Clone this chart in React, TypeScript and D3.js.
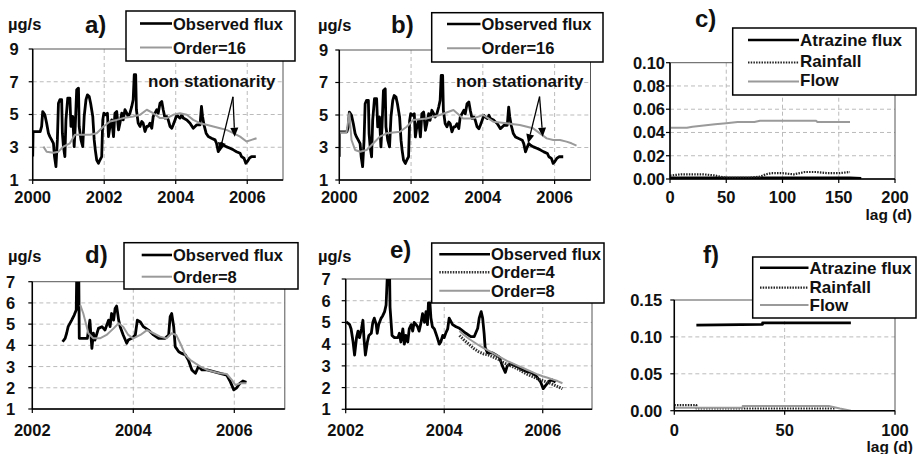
import React from 'react';
import * as d3 from 'd3';

const FONT = "'Liberation Sans', Arial, sans-serif";

// observed atrazine flux (panels a, b)
const obsYears = [2000.0, 2000.01, 2000.21, 2000.25, 2000.28, 2000.34, 2000.39, 2000.44, 2000.48, 2000.53, 2000.58, 2000.61, 2000.65, 2000.69, 2000.72, 2000.76, 2000.81, 2000.83, 2000.86, 2000.9, 2000.93, 2000.98, 2001.04, 2001.07, 2001.12, 2001.16, 2001.19, 2001.23, 2001.28, 2001.3, 2001.35, 2001.4, 2001.44, 2001.49, 2001.53, 2001.58, 2001.62, 2001.68, 2001.72, 2001.75, 2001.79, 2001.84, 2001.88, 2001.93, 2001.96, 2001.99, 2002.05, 2002.09, 2002.12, 2002.16, 2002.21, 2002.26, 2002.3, 2002.35, 2002.4, 2002.44, 2002.49, 2002.53, 2002.58, 2002.63, 2002.67, 2002.72, 2002.77, 2002.81, 2002.84, 2002.88, 2002.9, 2002.95, 2003.0, 2003.05, 2003.09, 2003.14, 2003.19, 2003.23, 2003.28, 2003.33, 2003.37, 2003.42, 2003.47, 2003.51, 2003.56, 2003.61, 2003.65, 2003.7, 2003.75, 2003.79, 2003.84, 2003.89, 2003.93, 2003.98, 2004.03, 2004.07, 2004.12, 2004.17, 2004.21, 2004.31, 2004.4, 2004.49, 2004.59, 2004.68, 2004.72, 2004.75, 2004.79, 2004.85, 2004.91, 2005.0, 2005.1, 2005.14, 2005.19, 2005.24, 2005.28, 2005.33, 2005.41, 2005.52, 2005.61, 2005.7, 2005.8, 2005.84, 2005.91, 2005.96, 2006.0, 2006.06, 2006.12, 2006.24];
const obsFlux = [2.43, 3.96, 3.96, 4.27, 5.18, 4.98, 4.47, 3.86, 3.65, 3.45, 3.24, 2.43, 1.82, 3.45, 5.69, 5.9, 5.9, 3.86, 3.04, 2.43, 4.67, 6.0, 6.0, 4.27, 4.88, 3.04, 4.27, 6.51, 6.61, 4.27, 3.45, 3.04, 4.88, 5.9, 6.2, 6.1, 5.69, 4.88, 3.45, 2.84, 2.22, 2.02, 2.22, 2.43, 4.67, 5.08, 4.98, 5.08, 3.65, 4.27, 4.67, 3.65, 5.08, 5.18, 4.06, 4.47, 5.08, 4.67, 5.29, 5.08, 4.88, 5.08, 5.49, 5.9, 7.43, 7.43, 5.29, 4.47, 4.27, 4.57, 4.47, 3.96, 4.27, 4.27, 4.47, 4.16, 4.88, 5.08, 5.29, 5.08, 5.69, 5.8, 5.29, 4.78, 4.88, 4.67, 4.27, 4.16, 4.37, 4.67, 4.98, 4.88, 4.78, 4.98, 4.78, 4.67, 4.47, 4.16, 4.37, 4.37, 5.49, 4.88, 4.37, 3.86, 3.65, 3.55, 3.45, 3.24, 2.73, 3.04, 3.24, 3.14, 3.04, 2.94, 2.84, 2.73, 2.63, 2.43, 2.33, 2.02, 2.12, 2.33, 2.43, 2.43];

// Order=16 model, panel a
const ord16aYears = [2000.3, 2000.39, 2000.58, 2000.72, 2000.86, 2001.04, 2001.18, 2001.42, 2001.6, 2001.79, 2001.98, 2002.16, 2002.35, 2002.53, 2002.81, 2003.0, 2003.19, 2003.37, 2003.56, 2003.75, 2003.93, 2004.12, 2004.31, 2004.49, 2004.68, 2004.86, 2005.05, 2005.24, 2005.42, 2005.61, 2005.8, 2005.98, 2006.12, 2006.26];
const ord16aVals = [3.04, 2.73, 2.67, 2.73, 3.04, 3.24, 3.76, 3.76, 3.76, 3.86, 4.27, 4.57, 4.67, 4.78, 4.88, 4.98, 5.29, 5.08, 4.78, 4.78, 4.98, 5.08, 4.98, 4.67, 4.47, 4.37, 4.27, 4.16, 4.06, 3.86, 3.65, 3.35, 3.45, 3.55];

// Order=16 model, panel b
const ord16bYears = [2000.0, 2000.01, 2000.2, 2000.28, 2000.34, 2000.44, 2000.58, 2000.76, 2000.95, 2001.13, 2001.32, 2001.69, 2001.88, 2002.06, 2002.43, 2002.8, 2003.18, 2003.45, 2003.73, 2004.01, 2004.29, 2004.66, 2005.03, 2005.4, 2005.59, 2005.78, 2005.96, 2006.15, 2006.33, 2006.47, 2006.61];
const ord16bVals = [2.44, 3.93, 3.93, 5.1, 3.46, 2.85, 2.74, 2.85, 3.26, 3.67, 3.87, 3.97, 4.28, 4.69, 4.79, 5.0, 5.31, 4.79, 4.79, 5.0, 4.59, 4.49, 4.38, 4.18, 3.87, 3.56, 3.46, 3.46, 3.36, 3.26, 3.11];

// panel d
const obsDYears = [2002.6, 2002.65, 2002.68, 2002.71, 2002.78, 2002.83, 2002.87, 2002.88, 2002.92, 2002.93, 2003.01, 2003.09, 2003.14, 2003.18, 2003.21, 2003.24, 2003.31, 2003.38, 2003.44, 2003.51, 2003.54, 2003.57, 2003.61, 2003.64, 2003.67, 2003.71, 2003.74, 2003.8, 2003.87, 2003.9, 2003.97, 2004.04, 2004.08, 2004.14, 2004.2, 2004.3, 2004.4, 2004.5, 2004.63, 2004.7, 2004.73, 2004.76, 2004.8, 2004.83, 2004.9, 2004.96, 2005.03, 2005.09, 2005.16, 2005.23, 2005.29, 2005.36, 2005.46, 2005.59, 2005.72, 2005.85, 2005.92, 2005.99, 2006.04, 2006.11, 2006.17, 2006.24];
const obsDVals = [4.17, 4.33, 4.57, 4.88, 5.19, 5.43, 5.67, 7.4, 7.4, 4.33, 4.33, 4.33, 5.19, 3.86, 4.57, 4.25, 4.8, 4.88, 4.72, 5.19, 4.88, 5.5, 5.19, 5.74, 5.85, 5.19, 4.88, 4.49, 4.1, 4.25, 4.33, 4.49, 5.19, 5.1, 4.88, 4.72, 4.49, 4.33, 4.33, 4.49, 5.35, 5.5, 4.88, 3.94, 3.7, 3.62, 3.55, 3.31, 2.84, 2.68, 3.0, 2.84, 2.84, 2.76, 2.68, 2.6, 2.29, 1.9, 1.98, 2.21, 2.32, 2.26];
const ord8DYears = [2002.95, 2003.01, 2003.06, 2003.11, 2003.21, 2003.34, 2003.47, 2003.61, 2003.71, 2003.8, 2003.9, 2004.0, 2004.14, 2004.27, 2004.4, 2004.53, 2004.66, 2004.76, 2004.85, 2004.93, 2005.03, 2005.13, 2005.23, 2005.33, 2005.46, 2005.59, 2005.72, 2005.85, 2005.95, 2006.02, 2006.12, 2006.24];
const ord8DVals = [5.9, 5.5, 5.04, 4.57, 4.33, 4.33, 4.49, 4.8, 5.04, 4.88, 4.49, 4.33, 4.49, 4.72, 4.57, 4.41, 4.33, 4.57, 4.49, 4.1, 3.55, 3.31, 3.15, 3.0, 2.84, 2.76, 2.68, 2.65, 2.37, 2.13, 2.21, 2.21];

// panel e
const obsEYears = [2002.01, 2002.08, 2002.11, 2002.15, 2002.18, 2002.22, 2002.25, 2002.28, 2002.32, 2002.35, 2002.37, 2002.4, 2002.44, 2002.47, 2002.52, 2002.55, 2002.58, 2002.62, 2002.64, 2002.67, 2002.72, 2002.75, 2002.79, 2002.82, 2002.85, 2002.89, 2002.9, 2002.94, 2002.99, 2003.06, 2003.09, 2003.12, 2003.16, 2003.19, 2003.22, 2003.26, 2003.29, 2003.33, 2003.36, 2003.39, 2003.43, 2003.46, 2003.49, 2003.53, 2003.56, 2003.6, 2003.63, 2003.66, 2003.68, 2003.71, 2003.73, 2003.76, 2003.8, 2003.83, 2003.86, 2003.9, 2003.93, 2003.97, 2004.0, 2004.03, 2004.07, 2004.1, 2004.17, 2004.24, 2004.31, 2004.44, 2004.54, 2004.61, 2004.68, 2004.71, 2004.75, 2004.78, 2004.81, 2004.83, 2004.88, 2004.98, 2005.05, 2005.12, 2005.18, 2005.24, 2005.28, 2005.35, 2005.45, 2005.56, 2005.66, 2005.76, 2005.86, 2005.96, 2006.01, 2006.06, 2006.13, 2006.19, 2006.26];
const obsEVals = [5.03, 4.9, 4.7, 4.1, 3.5, 4.3, 4.6, 4.3, 4.7, 5.1, 4.3, 3.5, 4.1, 4.4, 4.5, 5.0, 5.2, 4.9, 4.5, 4.9, 5.2, 5.3, 5.5, 5.8, 7.4, 7.4, 5.7, 4.4, 4.3, 4.3, 4.5, 4.1, 4.7, 4.0, 4.4, 4.1, 4.7, 4.9, 4.6, 5.0, 4.9, 4.8, 4.6, 5.0, 5.4, 5.0, 5.5, 4.9, 5.9, 5.9, 5.2, 4.8, 4.7, 4.5, 4.3, 4.0, 4.1, 4.4, 4.3, 4.5, 4.7, 5.2, 4.9, 4.8, 4.73, 4.5, 4.35, 4.35, 4.73, 5.2, 5.5, 5.2, 4.5, 3.85, 3.6, 3.6, 3.5, 3.4, 3.0, 2.7, 3.0, 3.1, 3.0, 2.85, 2.75, 2.7, 2.55, 2.25, 1.95, 2.1, 2.3, 2.35, 2.25];
const ord4EYears = [2004.31, 2004.4, 2004.5, 2004.6, 2004.7, 2004.8, 2004.9, 2005.0, 2005.1, 2005.2, 2005.3, 2005.4, 2005.5, 2005.6, 2005.7, 2005.8, 2005.9, 2006.0, 2006.1, 2006.2, 2006.3, 2006.4];
const ord4EVals = [4.4, 4.2, 4.0, 3.8, 3.65, 3.55, 3.5, 3.4, 3.3, 3.15, 3.05, 2.95, 2.85, 2.72, 2.6, 2.5, 2.4, 2.32, 2.25, 2.15, 2.05, 1.95];
const ord8EYears = [2004.31, 2004.4, 2004.5, 2004.6, 2004.7, 2004.8, 2004.9, 2005.0, 2005.1, 2005.2, 2005.3, 2005.4, 2005.5, 2005.6, 2005.7, 2005.8, 2005.9, 2006.0, 2006.1, 2006.2, 2006.3, 2006.4];
const ord8EVals = [4.6, 4.42, 4.25, 4.1, 3.95, 3.82, 3.7, 3.58, 3.45, 3.32, 3.2, 3.1, 3.0, 2.9, 2.8, 2.7, 2.6, 2.52, 2.45, 2.38, 2.3, 2.2];

// panel c (lag, d)
const lagC = [0, 10, 20, 30, 40, 50, 60, 70, 80, 90, 100, 110, 120, 130, 140, 150, 160, 170];
const atrazineC = [0.001, 0.001, 0.001, 0.001, 0.001, 0.001, 0.001, 0.001, 0.001, 0.001, 0.001, 0.001, 0.001, 0.001, 0.001, 0.001, 0.001, 0.0005];
const rainLagC = [0, 10, 20, 30, 40, 50, 60, 70, 80, 85, 90, 100, 110, 120, 130, 140, 150, 160];
const rainfallC = [0.003, 0.004, 0.004, 0.004, 0.003, 0.001, 0.001, 0.001, 0.002, 0.004, 0.005, 0.005, 0.004, 0.006, 0.006, 0.005, 0.005, 0.006];
const flowLagC = [0, 15, 20, 30, 40, 50, 60, 75, 80, 130, 131, 160];
const flowC = [0.044, 0.044, 0.045, 0.046, 0.047, 0.048, 0.049, 0.049, 0.05, 0.05, 0.049, 0.049];

// panel f
const atrazineLagF = [10, 40, 40, 80];
const atrazineF = [0.116, 0.117, 0.119, 0.119];
const rainLagF = [0, 10, 10, 31, 73];
const rainfallF = [0.0075, 0.0075, 0.003, 0.003, 0.003];
const flowLagF = [0, 31, 31, 70, 75, 80];
const flowF = [0.004, 0.004, 0.0065, 0.0065, 0.003, 0.0];

const yearTicksTop = [2000, 2002, 2004, 2006];
const yearTicksBottom = [2002, 2004, 2006];
const fluxTicksTop = [1, 3, 5, 7, 9];
const fluxTicksBottom = [1, 2, 3, 4, 5, 6, 7];
const corrTicksC = [0, 0.02, 0.04, 0.06, 0.08, 0.1];
const lagTicksC = [0, 50, 100, 150, 200];
const corrTicksF = [0, 0.05, 0.1, 0.15];
const lagTicksF = [0, 50, 100];

type Sty = { stroke: string; width: number; dash?: string };
const BLACK: Sty = { stroke: '#000', width: 2.8 };
const GRAY: Sty = { stroke: '#9a9a9a', width: 2 };
const WAVY: Sty = { stroke: '#333', width: 3, dash: '1.5 1.2' };
const WAVY_THIN: Sty = { stroke: '#222', width: 2.2, dash: '1.5 1.2' };

type Series = { xs: number[]; ys: number[]; sty: Sty };
type LegendRow = { label: string; sty: Sty; ly: number; ty: number };
type Legend = { x: number; y: number; w: number; h: number; lx0: number; lx1: number; fs: number; rows: LegendRow[] };

interface PanelProps {
  id: string;
  l: number; r: number; t: number; b: number;
  xDomain: [number, number]; yDomain: [number, number];
  xTicks: number[]; yTicks: number[];
  fmtY: (v: number) => string;
  yLabelGap: number;
  xLabelY: number;
  series: Series[];
  legend: Legend;
  title: string; titleX: number; titleY: number;
  unit?: { x: number; y: number };
  lagLabel?: { x: number; y: number };
}

const Panel = (p: PanelProps) => {
  const x = d3.scaleLinear().domain(p.xDomain).range([p.l, p.r]);
  const y = d3.scaleLinear().domain(p.yDomain).range([p.b, p.t]);
  const line = d3.line<[number, number]>().x((d) => x(d[0])).y((d) => y(d[1]));
  const lab = { fontFamily: FONT, fontWeight: 700, fontSize: 16.5, fill: '#111' } as const;
  return (
    <g>
      <defs>
        <clipPath id={`clip-${p.id}`}>
          <rect x={p.l} y={p.t} width={p.r - p.l} height={p.b - p.t} />
        </clipPath>
      </defs>
      {/* grid */}
      {p.yTicks.slice(1).filter((v) => v < p.yDomain[1]).map((v) => (
        <line key={'gy' + v} x1={p.l} x2={p.r} y1={y(v)} y2={y(v)} stroke="#bbb" strokeDasharray="4 3" />
      ))}
      {p.xTicks.slice(1).filter((v) => v < p.xDomain[1]).map((v) => (
        <line key={'gx' + v} x1={x(v)} x2={x(v)} y1={p.t} y2={p.b} stroke="#bbb" strokeDasharray="4 3" />
      ))}
      <rect x={p.l} y={p.t} width={p.r - p.l} height={p.b - p.t} fill="none" stroke="#555" strokeWidth={1} />
      {/* data */}
      <g clipPath={`url(#clip-${p.id})`}>
        {p.series.map((s, i) => (
          <path key={i} d={line(d3.zip(s.xs, s.ys) as [number, number][]) || ''} fill="none"
            stroke={s.sty.stroke} strokeWidth={s.sty.width} strokeDasharray={s.sty.dash} strokeLinejoin="round" />
        ))}
      </g>
      {/* axes */}
      <line x1={p.l} x2={p.r} y1={p.b} y2={p.b} stroke="#000" strokeWidth={1.5} />
      <line x1={p.l} x2={p.l} y1={p.t} y2={p.b} stroke="#000" strokeWidth={1.5} />
      {p.xTicks.map((v) => (
        <g key={'xt' + v}>
          <line x1={x(v)} x2={x(v)} y1={p.b} y2={p.b + 4} stroke="#000" strokeWidth={1.2} />
          <text x={x(v)} y={p.xLabelY} textAnchor="middle" {...lab}>{v}</text>
        </g>
      ))}
      {p.yTicks.map((v) => (
        <g key={'yt' + v}>
          <line x1={p.l - 4} x2={p.l} y1={y(v)} y2={y(v)} stroke="#000" strokeWidth={1.2} />
          <text x={p.l - p.yLabelGap} y={y(v)} dy="0.36em" textAnchor="end" {...lab}>{p.fmtY(v)}</text>
        </g>
      ))}
      {/* legend */}
      <rect x={p.legend.x} y={p.legend.y} width={p.legend.w} height={p.legend.h} fill="#fff" stroke="#000" strokeWidth={1.5} />
      {p.legend.rows.map((row) => (
        <g key={row.label}>
          <line x1={p.legend.lx0} x2={p.legend.lx1} y1={row.ly} y2={row.ly} stroke={row.sty.stroke}
            strokeWidth={Math.min(row.sty.width, 2.6)} strokeDasharray={row.sty.dash} />
          <text x={p.legend.lx1 + 1} y={row.ty} fontFamily={FONT} fontWeight={700} fontSize={p.legend.fs} fill="#111">{row.label}</text>
        </g>
      ))}
      <text x={p.titleX} y={p.titleY} fontFamily={FONT} fontWeight={700} fontSize={24} fill="#111">{p.title}</text>
      {p.unit && <text x={p.unit.x} y={p.unit.y} {...lab}>µg/s</text>}
      {p.lagLabel && <text x={p.lagLabel.x} y={p.lagLabel.y} textAnchor="end" {...lab} fontSize={15.5}>lag (d)</text>}
    </g>
  );
};

const Arrows = ({ x0, y0, tips }: { x0: number; y0: number; tips: [number, number][] }) => (
  <g>
    {tips.map(([tx, ty], i) => {
      const ang = Math.atan2(ty - y0, tx - x0);
      const len = 9;
      const w = 4;
      const bx = tx - len * Math.cos(ang);
      const by = ty - len * Math.sin(ang);
      const px = -Math.sin(ang) * w;
      const py = Math.cos(ang) * w;
      return (
        <g key={i}>
          <line x1={x0} y1={y0} x2={bx} y2={by} stroke="#000" strokeWidth={1.3} />
          <path d={`M${tx},${ty}L${bx + px},${by + py}L${bx - px},${by - py}Z`} fill="#000" />
        </g>
      );
    })}
  </g>
);

const fmtInt = (v: number) => String(v);
const fmt2 = (v: number) => v.toFixed(2);

export default function App() {
  const xa = d3.scaleLinear().domain([2000, 2007]).range([32.7, 283]);
  const ya = d3.scaleLinear().domain([1, 9]).range([180, 49]);
  const xb = d3.scaleLinear().domain([2000, 2007]).range([339.3, 590.5]);
  const yb = d3.scaleLinear().domain([1, 9]).range([180, 50]);
  return (
    <svg width={917} height={454} style={{ position: 'absolute', left: 0, top: 0, background: '#fff' }}>
      <Panel id="a" l={32.7} r={283} t={49} b={180} xDomain={[2000, 2007]} yDomain={[1, 9]}
        xTicks={yearTicksTop} yTicks={fluxTicksTop} fmtY={fmtInt} yLabelGap={14} xLabelY={203}
        series={[
          { xs: obsYears, ys: obsFlux, sty: BLACK },
          { xs: ord16aYears, ys: ord16aVals, sty: GRAY },
        ]}
        legend={{ x: 126, y: 11, w: 169, h: 50, lx0: 140, lx1: 172, fs: 16.5, rows: [
          { label: 'Observed flux', sty: BLACK, ly: 23.5, ty: 29.5 },
          { label: 'Order=16', sty: GRAY, ly: 47.5, ty: 53.5 },
        ] }}
        title="a)" titleX={85} titleY={33} unit={{ x: 8, y: 30 }} />
      <text x={148} y={87} fontFamily={FONT} fontWeight={700} fontSize={17} fill="#111">non stationarity</text>
      <Arrows x0={xa(2005.6)} y0={ya(6.08)} tips={[[xa(2005.23), ya(2.73)], [xa(2005.65), ya(3.64)]]} />

      <Panel id="b" l={339.3} r={590.5} t={50} b={180} xDomain={[2000, 2007]} yDomain={[1, 9]}
        xTicks={yearTicksTop} yTicks={fluxTicksTop} fmtY={fmtInt} yLabelGap={11} xLabelY={203}
        series={[
          { xs: obsYears, ys: obsFlux, sty: BLACK },
          { xs: ord16bYears, ys: ord16bVals, sty: GRAY },
        ]}
        legend={{ x: 431.7, y: 12.7, w: 171.3, h: 49.3, lx0: 447, lx1: 480.5, fs: 16.5, rows: [
          { label: 'Observed flux', sty: BLACK, ly: 24, ty: 30 },
          { label: 'Order=16', sty: GRAY, ly: 48.3, ty: 54 },
        ] }}
        title="b)" titleX={391} titleY={33} unit={{ x: 318, y: 31 }} />
      <text x={456} y={87} fontFamily={FONT} fontWeight={700} fontSize={17} fill="#111">non stationarity</text>
      <Arrows x0={xb(2005.58)} y0={yb(6.13)} tips={[[xb(2005.26), yb(3.26)], [xb(2005.67), yb(3.66)]]} />

      <Panel id="c" l={670} r={895} t={62.7} b={179} xDomain={[0, 200]} yDomain={[0, 0.1]}
        xTicks={lagTicksC} yTicks={corrTicksC} fmtY={fmt2} yLabelGap={5} xLabelY={203}
        series={[
          { xs: lagC, ys: atrazineC, sty: BLACK },
          { xs: rainLagC, ys: rainfallC, sty: WAVY_THIN },
          { xs: flowLagC, ys: flowC, sty: GRAY },
        ]}
        legend={{ x: 732.7, y: 28, w: 183.3, h: 67, lx0: 748, lx1: 799, fs: 17, rows: [
          { label: 'Atrazine flux', sty: BLACK, ly: 40, ty: 46 },
          { label: 'Rainfall', sty: WAVY_THIN, ly: 62.5, ty: 67 },
          { label: 'Flow', sty: GRAY, ly: 81.5, ty: 86 },
        ] }}
        title="c)" titleX={695} titleY={27} lagLabel={{ x: 912, y: 220 }} />

      <Panel id="d" l={32.3} r={284.8} t={281.7} b={409} xDomain={[2002, 2007]} yDomain={[1, 7]}
        xTicks={yearTicksBottom} yTicks={fluxTicksBottom} fmtY={fmtInt} yLabelGap={17} xLabelY={436}
        series={[
          { xs: obsDYears, ys: obsDVals, sty: BLACK },
          { xs: ord8DYears, ys: ord8DVals, sty: GRAY },
        ]}
        legend={{ x: 124, y: 242.7, w: 174, h: 46.3, lx0: 141.7, lx1: 172, fs: 16.5, rows: [
          { label: 'Observed flux', sty: BLACK, ly: 255, ty: 261 },
          { label: 'Order=8', sty: GRAY, ly: 276.7, ty: 282.5 },
        ] }}
        title="d)" titleX={85} titleY={263} unit={{ x: 8, y: 262 }} />

      <Panel id="e" l={345.7} r={592} t={279} b={409.3} xDomain={[2002, 2007]} yDomain={[1, 7]}
        xTicks={yearTicksBottom} yTicks={fluxTicksBottom} fmtY={fmtInt} yLabelGap={15} xLabelY={436}
        series={[
          { xs: obsEYears, ys: obsEVals, sty: BLACK },
          { xs: ord4EYears, ys: ord4EVals, sty: WAVY },
          { xs: ord8EYears, ys: ord8EVals, sty: GRAY },
        ]}
        legend={{ x: 431.7, y: 243, w: 172.3, h: 60, lx0: 439.3, lx1: 490, fs: 16.5, rows: [
          { label: 'Observed flux', sty: BLACK, ly: 254.3, ty: 260 },
          { label: 'Order=4', sty: WAVY, ly: 272.3, ty: 278 },
          { label: 'Order=8', sty: GRAY, ly: 290.7, ty: 296.5 },
        ] }}
        title="e)" titleX={390} titleY={258} unit={{ x: 318, y: 262 }} />

      <Panel id="f" l={674.3} r={895} t={300} b={410.7} xDomain={[0, 100]} yDomain={[0, 0.15]}
        xTicks={lagTicksF} yTicks={corrTicksF} fmtY={fmt2} yLabelGap={12} xLabelY={436}
        series={[
          { xs: atrazineLagF, ys: atrazineF, sty: BLACK },
          { xs: rainLagF, ys: rainfallF, sty: WAVY_THIN },
          { xs: flowLagF, ys: flowF, sty: GRAY },
        ]}
        legend={{ x: 752.7, y: 257, w: 163.3, h: 61, lx0: 760, lx1: 808.5, fs: 17, rows: [
          { label: 'Atrazine flux', sty: BLACK, ly: 267.7, ty: 273.5 },
          { label: 'Rainfall', sty: WAVY_THIN, ly: 287.7, ty: 293 },
          { label: 'Flow', sty: GRAY, ly: 305, ty: 310.5 },
        ] }}
        title="f)" titleX={703} titleY={263} lagLabel={{ x: 913, y: 452 }} />
    </svg>
  );
}
